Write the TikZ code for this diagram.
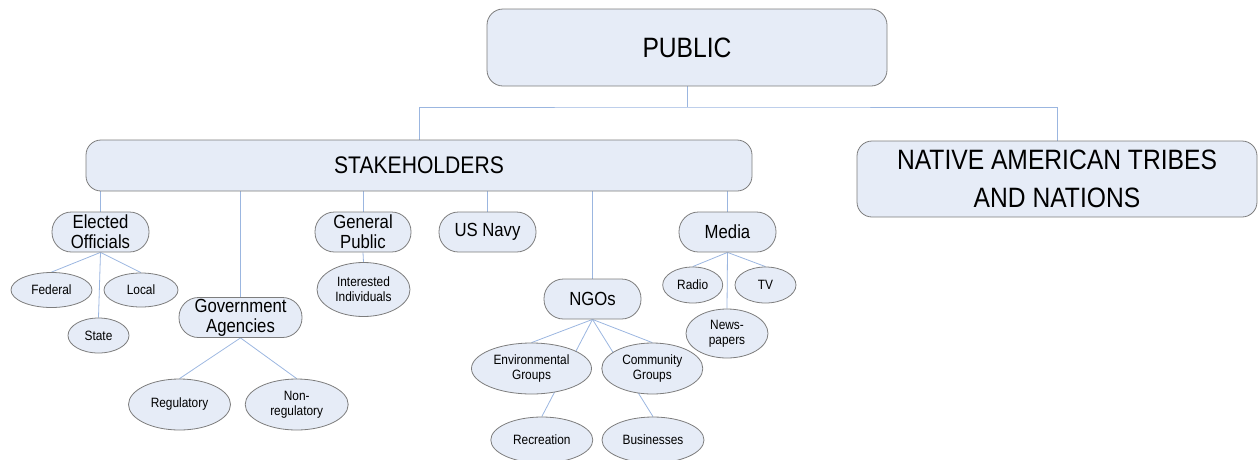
\documentclass[tikz,border=0pt]{standalone}
\usepackage{fontspec}
\setmainfont{Liberation Sans}[FakeStretch=0.88]
\usetikzlibrary{shapes.geometric,backgrounds}
\definecolor{boxfill}{RGB}{230,236,247}
\definecolor{boxdraw}{RGB}{125,125,125}
\definecolor{linkc}{RGB}{155,182,224}
\begin{document}
\begin{tikzpicture}[x=1pt,y=-1pt,
  bigbox/.style={draw=boxdraw, fill=boxfill, rounded corners=16pt, inner sep=0pt, line width=0.8pt, font=\fontsize{28}{38}\selectfont, align=center},
  midbox/.style={draw=boxdraw, fill=boxfill, rounded corners=19.5pt, minimum height=40pt, inner sep=0pt, line width=0.8pt, font=\fontsize{19}{20}\selectfont, align=center},
  leaf/.style={ellipse, draw=boxdraw, fill=boxfill, inner sep=0pt, line width=0.8pt, font=\fontsize{13.5}{15}\selectfont, align=center},
  link/.style={draw=linkc, line width=0.8pt}]
\useasboundingbox (0,0) rectangle (1259,459);

\node[bigbox, minimum width=400pt, minimum height=77pt] (pub) at (687,47.5) {PUBLIC};
\node[bigbox, minimum width=666pt, minimum height=51pt, rounded corners=15pt, font=\fontsize{24}{28}\selectfont] (stk) at (419,165.5) {STAKEHOLDERS};
\node[bigbox, minimum width=400pt, minimum height=76pt, rounded corners=15pt] (nat) at (1057,179) {NATIVE AMERICAN TRIBES\\AND NATIONS};

\node[midbox, minimum width=97pt] (elected) at (100.5,232) {Elected\\Officials};
\node[midbox, minimum width=123pt] (gov) at (240.5,317.5) {Government\\Agencies};
\node[midbox, minimum width=96pt] (genpub) at (363,232) {General\\Public};
\node[midbox, minimum width=97pt] (navy) at (487.5,232) {US Navy};
\node[midbox, minimum width=97pt] (ngo) at (592.5,299) {NGOs};
\node[midbox, minimum width=97pt] (media) at (727.5,232) {Media};

\node[leaf, minimum width=81pt, minimum height=35pt] (fed) at (51.5,290) {Federal};
\node[leaf, minimum width=74pt, minimum height=34pt] (loc) at (141,290) {Local};
\node[leaf, minimum width=61pt, minimum height=35pt] (sta) at (98.5,335.5) {State};
\node[leaf, minimum width=93pt, minimum height=54pt] (int) at (363.5,289.5) {Interested\\Individuals};
\node[leaf, minimum width=102pt, minimum height=51pt] (reg) at (179.5,404.5) {Regulatory};
\node[leaf, minimum width=103pt, minimum height=51pt] (nonreg) at (296.7,404.5) {Non-\\regulatory};
\node[leaf, minimum width=120pt, minimum height=51pt] (env) at (531.5,368.5) {Environmental\\Groups};
\node[leaf, minimum width=101pt, minimum height=51pt] (com) at (652.3,368.5) {Community\\Groups};
\node[leaf, minimum width=102pt, minimum height=46pt] (rec) at (541.8,440) {Recreation};
\node[leaf, minimum width=102pt, minimum height=46pt] (biz) at (653,440) {Businesses};
\node[leaf, minimum width=60pt, minimum height=36pt] (radio) at (692.7,285) {Radio};
\node[leaf, minimum width=61pt, minimum height=36pt] (tv) at (765.5,285) {TV};
\node[leaf, minimum width=82pt, minimum height=49pt] (news) at (727,333.5) {News-\\papers};

\begin{scope}[on background layer]
\coordinate (junc) at (687,107);
\draw[link] (pub.south) -- (junc);
\draw[link] (stk.north) |- (junc) -| (nat.north);
\foreach \c in {elected,gov,genpub,navy,ngo,media}
  \draw[link] (stk.south -| \c.north) -- (\c.north);
\foreach \c in {fed,loc,sta}
  \draw[link] (elected.south) -- (\c.north);
\foreach \c in {reg,nonreg}
  \draw[link] (gov.south) -- (\c.north);
\draw[link] (genpub.south) -- (int.north);
\foreach \c in {env,rec,biz,com}
  \draw[link] (ngo.south) -- (\c.north);
\foreach \c in {radio,tv,news}
  \draw[link] (media.south) -- (\c.north);
\end{scope}
\end{tikzpicture}
\end{document}
